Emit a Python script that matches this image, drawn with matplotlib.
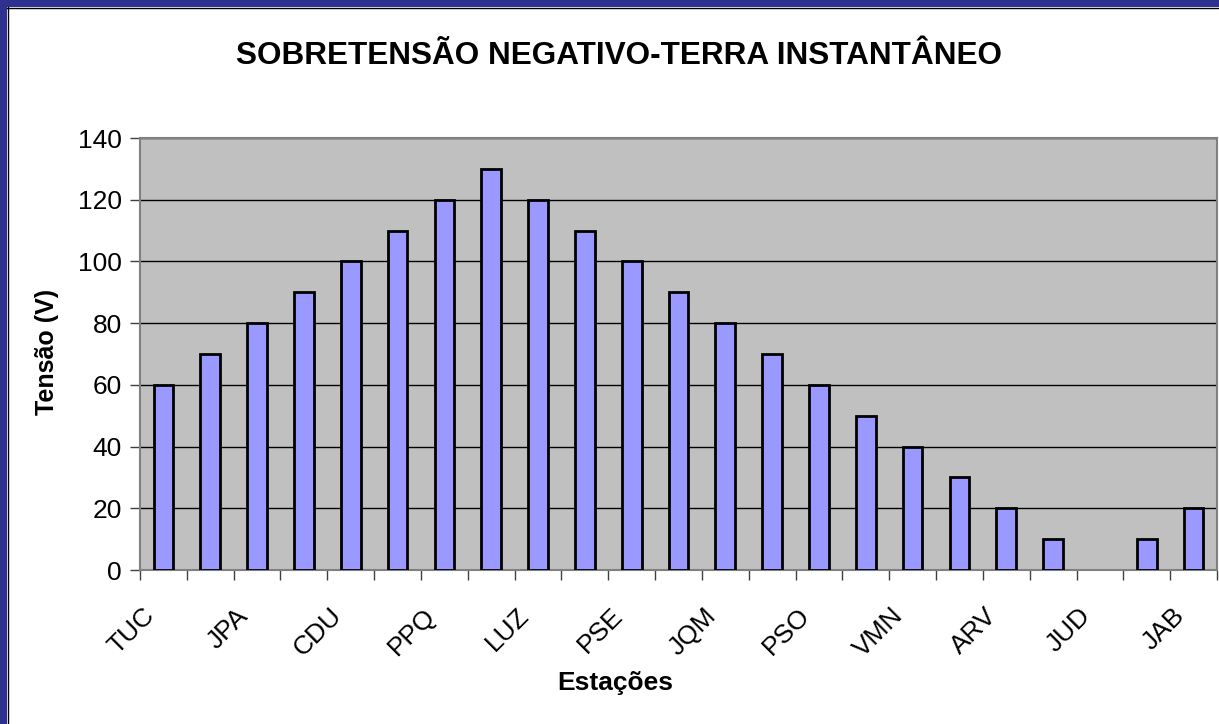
import matplotlib
matplotlib.use("Agg")
import matplotlib.pyplot as plt
import matplotlib.transforms as mtransforms
import numpy as np

# stations (one per bar), only every other one is labelled
stations = ["TUC", "", "JPA", "", "CDU", "", "PPQ", "", "LUZ", "", "PSE", "",
            "JQM", "", "PSO", "", "VMN", "", "ARV", "", "JUD", "", "JAB"]
tensao = [60, 70, 80, 90, 100, 110, 120, 130, 120, 110, 100, 90,
          80, 70, 60, 50, 40, 30, 20, 10, 0, 10, 20]

plt.rcParams['font.family'] = ['Liberation Sans', 'DejaVu Sans']

W, H = 1219, 724
fig = plt.figure(figsize=(W / 100, H / 100), dpi=100)
fig.patch.set_facecolor("white")

# slide frame (dark blue band at top and left)
navy = "#2E3190"
fig.patches.append(plt.Rectangle((0, 1 - 7 / H), 1, 7 / H, transform=fig.transFigure,
                                 facecolor=navy, edgecolor="none", zorder=-1))
fig.patches.append(plt.Rectangle((0, 0), 7 / W, 1, transform=fig.transFigure,
                                 facecolor=navy, edgecolor="none", zorder=-1))
fig.add_artist(plt.Line2D([7 / W, 1], [1 - 7.5 / H, 1 - 7.5 / H], color="black", lw=1))
fig.add_artist(plt.Line2D([7.5 / W, 7.5 / W], [0, 1 - 7 / H], color="black", lw=1))

ax = fig.add_axes([140 / W, 1 - 570 / H, (1217 - 140) / W, (570 - 138) / H])
ax.set_facecolor("#C0C0C0")

x = np.arange(len(tensao))
edges = ["black" if v > 0 else "none" for v in tensao]
ax.bar(x, tensao, width=0.42, color="#9999FF", edgecolor=edges, linewidth=2, zorder=3)

ax.set_xlim(-0.5, len(tensao) - 0.5)
ax.set_ylim(0, 140)
ax.set_yticks(np.arange(0, 141, 20))
ax.yaxis.grid(True, color="black", linewidth=1, zorder=1)
ax.set_axisbelow(True)

# ticks at category boundaries, rotated station names under the bars
ax.set_xticks(np.arange(-0.5, len(tensao), 1.0))
ax.set_xticklabels([])
offset = mtransforms.ScaledTranslation(-13 / 100, -42 / 100, fig.dpi_scale_trans)
for xi, name in zip(x, stations):
    if name:
        ax.text(xi, 0, name, transform=ax.get_xaxis_transform() + offset,
                rotation=45, ha="right", va="center", rotation_mode="anchor",
                fontsize=19, clip_on=False)
ax.tick_params(axis="x", which="major", length=7, width=1, color="#404040", direction="out")
ax.tick_params(axis="y", length=7, width=1, color="#404040", labelsize=19, pad=6)

for s in ax.spines.values():
    s.set_color("#808080")
    s.set_linewidth(1.5)

fig.text(47 / W, 1 - 352 / H, "Tensão (V)", rotation=90, ha="center", va="center",
         fontsize=18, fontweight="bold")
fig.text(615 / W, 1 - 683 / H, "Estações", ha="center", va="center",
         fontsize=19, fontweight="bold")
fig.text(0.5 * (237 + 1000) / W, 1 - 56 / H, "SOBRETENSÃO NEGATIVO-TERRA INSTANTÂNEO",
         ha="center", va="center", fontsize=22.7, fontweight="bold")

fig.savefig("out.png", dpi=100)
